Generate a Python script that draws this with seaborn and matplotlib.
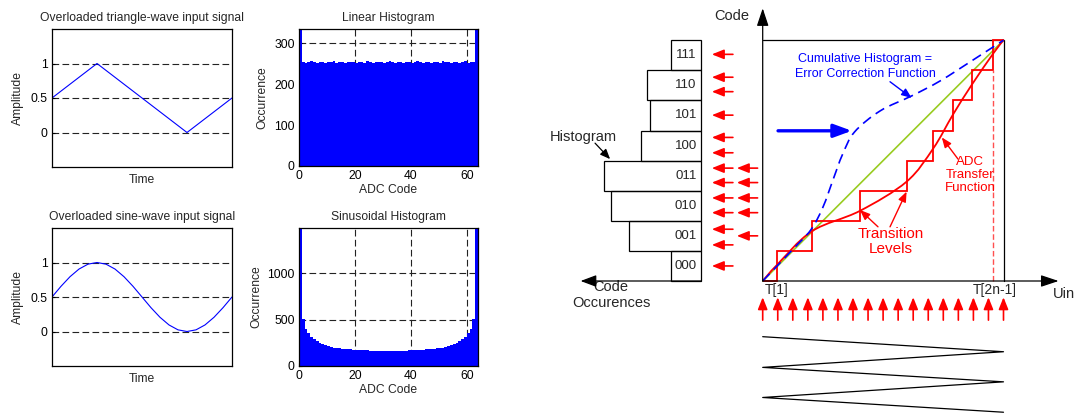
import numpy as np
import pandas as pd
import matplotlib
matplotlib.use("Agg")
import matplotlib.pyplot as plt
from matplotlib.path import Path
from matplotlib.patches import PathPatch
import seaborn as sns

# ---- left panels: input signals and their code histograms ----
tri_time = [0.0, 0.25, 0.75, 1.0]
tri_amp = [0.5, 1.0, 0.0, 0.5]

sine_time = np.linspace(0, 1, 21)
sine_amp = [0.5, 0.655, 0.794, 0.905, 0.976, 1.0, 0.976, 0.905, 0.794, 0.655, 0.5,
            0.345, 0.206, 0.095, 0.024, 0.0, 0.024, 0.095, 0.206, 0.345, 0.5]

adc_codes = np.arange(64)
linear_counts = [1200, 255, 253, 254, 256, 254, 253, 255,
                 254, 252, 255, 254, 256, 253, 254, 255,
                 253, 254, 255, 254, 252, 254, 255, 253,
                 256, 254, 253, 255, 254, 254, 253, 255,
                 256, 254, 253, 254, 255, 252, 254, 255,
                 253, 254, 256, 254, 253, 255, 254, 252,
                 255, 254, 253, 256, 254, 255, 253, 254,
                 255, 252, 254, 256, 253, 254, 255, 1200]
sine_counts = [3000, 505, 395, 350, 315, 288, 265, 248,
               234, 222, 213, 205, 199, 194, 190, 186,
               183, 180, 178, 176, 174, 172, 170, 168,
               167, 166, 165, 164, 163, 163, 162, 162,
               162, 162, 163, 163, 164, 165, 166, 167,
               168, 170, 172, 174, 176, 178, 180, 183,
               186, 190, 194, 199, 205, 213, 222, 234,
               248, 265, 288, 315, 350, 395, 505, 3000]

# ---- right diagram (units: one code step) ----
code_labels = ['000', '001', '010', '011', '100', '101', '110', '111']
code_occurrences = [1.0, 2.41, 3.01, 3.22, 2.01, 1.70, 1.81, 1.0]
transition_levels = [0.47, 1.63, 3.23, 4.78, 5.67, 6.31, 6.94, 7.66]
hit_col1 = [0.50, 1.20, 1.72, 2.27, 2.76, 3.27, 3.75, 4.26, 4.77, 5.51, 6.29, 6.77, 7.53]
hit_col2 = [1.50, 2.27, 2.76, 3.27, 3.75]
sample_pos = np.linspace(0, 8, 17)
ramp_x = [0, 8, 0, 8, 0, 8]
ramp_y = [-1.85, -2.35, -2.87, -3.35, -3.87, -4.36]
tf_x = [0, 0.47, 1.63, 3.23, 4.78, 5.67, 6.31, 6.94, 7.66, 8]
tf_y = [0, 0.53, 1.65, 2.33, 3.30, 4.41, 5.51, 6.51, 7.56, 8]
cum_x = [0, 1.0, 1.6, 2.0, 2.35, 2.65, 3.05, 3.9, 4.95, 5.9, 7.0, 8]
cum_y = [0, 1.05, 1.7, 2.45, 3.4, 4.2, 4.95, 5.65, 6.15, 6.65, 7.35, 8]

sns.set_style("ticks")
plt.rcParams['font.family'] = ['Liberation Sans', 'DejaVu Sans']
fs = 8.7

W, H = 1075, 413
fig = plt.figure(figsize=(W / 100, H / 100), dpi=100)


def px_axes(left, top, right, bottom):
    return fig.add_axes([left / W, 1 - bottom / H, (right - left) / W, (bottom - top) / H])


def style_axes(ax):
    for sp in ax.spines.values():
        sp.set_color('black')
        sp.set_linewidth(0.9)
    ax.tick_params(direction='in', length=2, labelsize=fs, colors='black', pad=3)
    ax.grid(True, color='#222222', linestyle=(0, (6, 3)), linewidth=0.8)
    ax.set_axisbelow(True)


def wave_panel(ax, t, a, title):
    sns.lineplot(x=t, y=a, ax=ax, color='blue', linewidth=0.8)
    ax.set_xlim(0, 1)
    ax.set_ylim(-0.5, 1.5)
    ax.set_yticks([0, 0.5, 1])
    ax.set_yticklabels(['0', '0.5', '1'])
    ax.set_xticks([])
    style_axes(ax)
    ax.grid(False, axis='x')
    ax.set_title(title, fontsize=fs, pad=6)
    ax.set_xlabel('Time', fontsize=fs, labelpad=5)
    ax.set_ylabel('Amplitude', fontsize=fs, labelpad=5)


def hist_panel(ax, counts, ytop, yticks, title):
    df = pd.DataFrame({'code': adc_codes + 0.5, 'count': counts})
    sns.histplot(data=df, x='code', weights='count', bins=64, binrange=(0, 64),
                 color='blue', alpha=1, linewidth=0, edgecolor='none', ax=ax)
    ax.set_xlim(0, 64)
    ax.set_ylim(0, ytop)
    ax.set_xticks([0, 20, 40, 60])
    ax.set_yticks(yticks)
    style_axes(ax)
    ax.set_title(title, fontsize=fs, pad=6)
    ax.set_xlabel('ADC Code', fontsize=fs, labelpad=1)
    ax.set_ylabel('Occurrence', fontsize=fs, labelpad=4)


ax1 = px_axes(52, 29, 232, 167)
wave_panel(ax1, tri_time, tri_amp, 'Overloaded triangle-wave input signal')
ax2 = px_axes(299, 29, 478, 166)
hist_panel(ax2, linear_counts, 335, [0, 100, 200, 300], 'Linear Histogram')
ax3 = px_axes(52, 228, 232, 366)
wave_panel(ax3, sine_time, sine_amp, 'Overloaded sine-wave input signal')
ax4 = px_axes(299, 228, 478, 366)
hist_panel(ax4, sine_counts, 1485, [0, 500, 1000], 'Sinusoidal Histogram')

# ---- diagram ----
s = 30.1
ox, oy = 762.7, 281
axd = fig.add_axes([540 / W, 0, (W - 540) / W, 1])
axd.set_xlim((540 - ox) / s, (W - ox) / s)
axd.set_ylim((oy - H) / s, oy / s)
axd.axis('off')


def arrow(x0, y0, x1, y1, color, lw=1.2, hl=0.6, hw=0.24, ms=12, z=5):
    axd.annotate('', xy=(x1, y1), xytext=(x0, y0),
                 arrowprops=dict(arrowstyle=f'-|>,head_length={hl},head_width={hw}',
                                 color=color, lw=lw, shrinkA=0, shrinkB=0,
                                 mutation_scale=ms), zorder=z)


def smooth_curve(xs, ys, **kw):
    pts = np.column_stack([xs, ys])
    verts, codes = [pts[0]], [Path.MOVETO]
    n = len(pts)
    for i in range(n - 1):
        p0, p1, p2, p3 = pts[max(i - 1, 0)], pts[i], pts[i + 1], pts[min(i + 2, n - 1)]
        verts += [p1 + (p2 - p0) / 6, p2 - (p3 - p1) / 6, p2]
        codes += [Path.CURVE4] * 3
    axd.add_patch(PathPatch(Path(verts, codes), fill=False, **kw))


# histogram on the code axis
hist_right = -2.04
axd.barh(np.arange(8) + 0.5, -np.array(code_occurrences), left=hist_right, height=1,
         fill=False, edgecolor='black', linewidth=0.9)
for k, lab in enumerate(code_labels):
    axd.text(hist_right - 0.51, k + 0.5, lab, ha='center', va='center', fontsize=9.5)
arrow(hist_right, 0, -6.05, 0, 'black', lw=0.9, hl=0.8, hw=0.3)
axd.text(-5.04, -0.2, 'Code', ha='center', va='center', fontsize=10.5)
axd.text(-5.04, -0.73, 'Occurences', ha='center', va='center', fontsize=10.5)
axd.text(-5.97, 4.78, 'Histogram', ha='center', va='center', fontsize=10.5)
arrow(-5.57, 4.58, -5.07, 4.05, 'black', lw=0.9, hl=0.6, hw=0.25, ms=10)

for y in hit_col1:
    arrow(-0.99, y, -1.69, y, 'red')
for y in hit_col2:
    arrow(-0.17, y, -0.86, y, 'red')

# transfer function frame
arrow(0, 0, 0, 9.06, 'black', lw=0.9, hl=0.9, hw=0.3)
arrow(0, 0, 9.83, 0, 'black', lw=0.9, hl=0.9, hw=0.3)
axd.plot([0, 8, 8], [8, 8, 0], color='black', lw=0.9)
axd.text(-0.45, 8.8, 'Code', ha='right', va='center', fontsize=10.5)
axd.text(9.64, -0.43, 'Uin', ha='left', va='center', fontsize=10.5)
axd.text(0.47, -0.3, 'T[1]', ha='center', va='center', fontsize=10)
axd.text(7.72, -0.3, 'T[2n-1]', ha='center', va='center', fontsize=10)

axd.plot([0, 8], [0, 8], color='#99cc22', lw=1.2, zorder=2)
axd.stairs(np.arange(9), [0] + transition_levels + [8], baseline=None,
           color='red', lw=1.3, zorder=3)
axd.plot([transition_levels[-1]] * 2, [0, 7], color='#ff5050', lw=1, ls=(0, (4, 2)), zorder=3)
smooth_curve(tf_x, tf_y, edgecolor='red', lw=1.3, zorder=4)
smooth_curve(cum_x, cum_y, edgecolor='blue', lw=1.2, ls=(0, (6, 3.5)), zorder=4)

axd.text(3.41, 7.37, 'Cumulative Histogram =', color='blue', ha='center', va='center', fontsize=9)
axd.text(3.41, 6.88, 'Error Correction Function', color='blue', ha='center', va='center', fontsize=9)
arrow(4.23, 6.62, 4.95, 6.08, 'blue', lw=1, hl=0.6, hw=0.24, ms=10)
arrow(0.51, 4.99, 2.96, 4.99, 'blue', lw=2.4, hl=0.9, hw=0.33, ms=12)

axd.text(6.89, 3.52, 'ADC\nTransfer\nFunction', color='red', ha='center', va='center',
         fontsize=9.5, linespacing=1.15)
arrow(6.49, 4.05, 5.95, 4.77, 'red', lw=1, hl=0.6, hw=0.24, ms=10)
axd.text(4.25, 1.31, 'Transition\nLevels', color='red', ha='center', va='center',
         fontsize=11, linespacing=1.1)
arrow(3.83, 1.80, 3.23, 2.36, 'red', lw=1, hl=0.6, hw=0.24, ms=10)
arrow(4.23, 1.80, 4.78, 2.97, 'red', lw=1, hl=0.6, hw=0.24, ms=10)

# samples and ramp input
for x in sample_pos:
    arrow(x, -1.30, x, -0.54, 'red', lw=1.2, hl=0.6, hw=0.24)
axd.plot(ramp_x, ramp_y, color='black', lw=0.9)

fig.savefig('out.png', dpi=100)
